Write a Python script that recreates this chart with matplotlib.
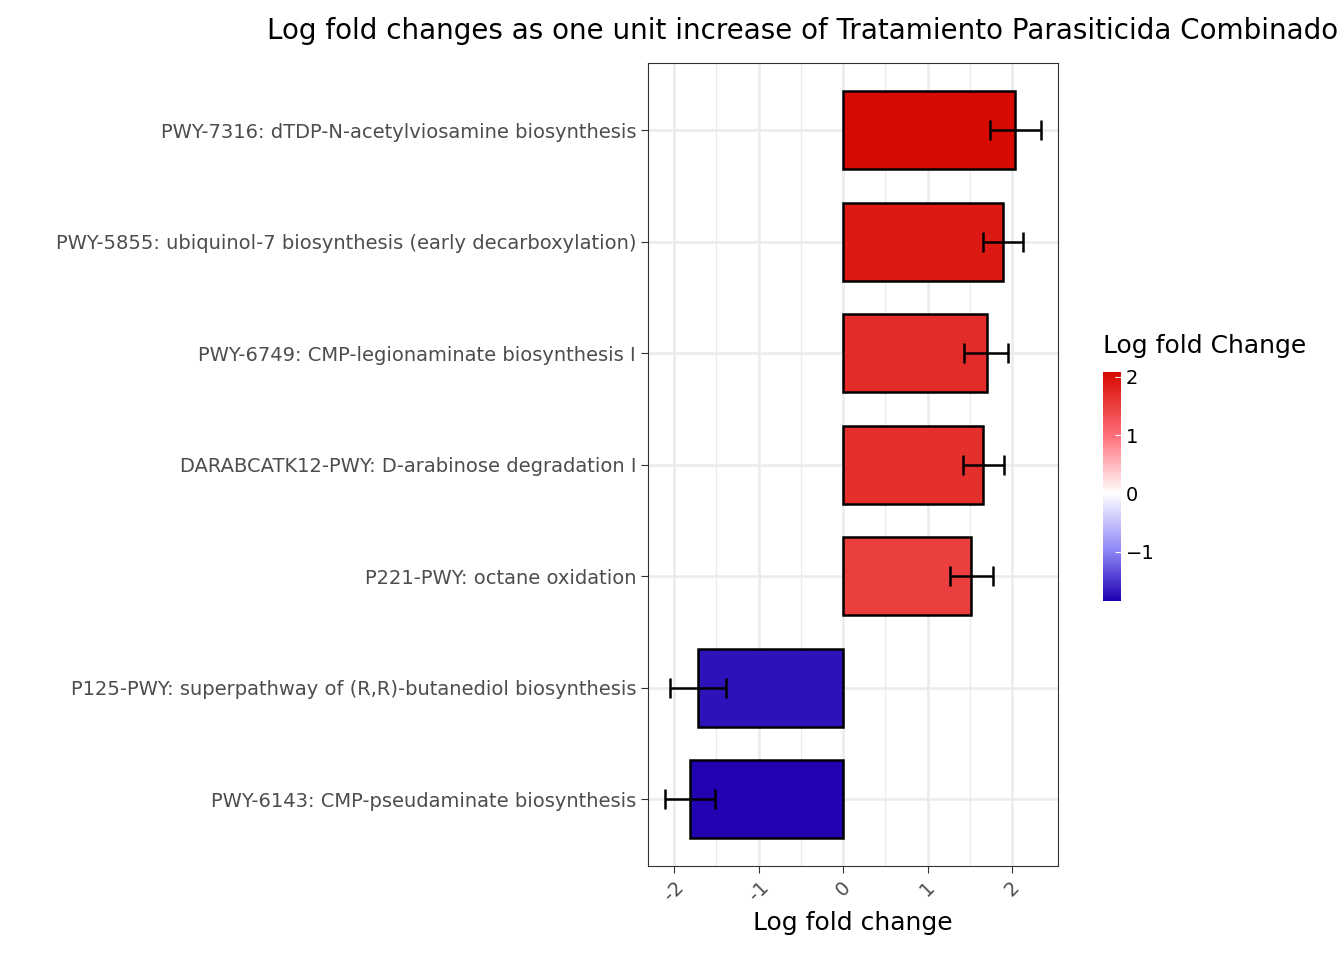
import matplotlib.pyplot as plt
import numpy as np
from matplotlib.colors import LinearSegmentedColormap, Normalize
from matplotlib.cm import ScalarMappable

pathways = [
    "PWY-7316: dTDP-N-acetylviosamine biosynthesis",
    "PWY-5855: ubiquinol-7 biosynthesis (early decarboxylation)",
    "PWY-6749: CMP-legionaminate biosynthesis I",
    "DARABCATK12-PWY: D-arabinose degradation I",
    "P221-PWY: octane oxidation",
    "P125-PWY: superpathway of (R,R)-butanediol biosynthesis",
    "PWY-6143: CMP-pseudaminate biosynthesis",
]
lfc = [2.04, 1.89, 1.70, 1.66, 1.51, -1.72, -1.81]
lower = [1.74, 1.66, 1.43, 1.42, 1.27, -2.05, -2.11]
upper = [2.34, 2.13, 1.95, 1.91, 1.78, -1.38, -1.51]

vmin, vmax = -1.84, 2.07
nodes = [-1.84, -1.0, 0.0, 1.0, 2.07]
node_colors = ["#2000B0", "#8A84F6", "#FFFFFF", "#FF6E78", "#D50A00"]
cmap = LinearSegmentedColormap.from_list(
    "lfc", [((v - vmin) / (vmax - vmin), c) for v, c in zip(nodes, node_colors)])
norm = Normalize(vmin, vmax)

fig = plt.figure(figsize=(13.44, 9.6), dpi=100)
ax = fig.add_axes([0.482, 0.098, 0.305, 0.836])
y = np.arange(len(pathways))[::-1]
ax.barh(y, lfc, height=0.7, color=cmap(norm(np.array(lfc))), edgecolor="black",
        linewidth=1.8, zorder=3)
lo = np.array(lfc) - np.array(lower)
hi = np.array(upper) - np.array(lfc)
ax.errorbar(lfc, y, xerr=[lo, hi], fmt="none", ecolor="black", elinewidth=1.8,
            capsize=7, capthick=1.8, zorder=4)

ax.set_xlim(-2.31, 2.54)
ax.set_ylim(-0.6, len(pathways) - 0.4)
ax.set_yticks(y)
ax.set_yticklabels(pathways, fontsize=14, color="#4d4d4d")
ax.set_xticks([-2, -1, 0, 1, 2])
ax.set_xticklabels(["-2", "-1", "0", "1", "2"], rotation=45, fontsize=14, color="#4d4d4d")
ax.set_xticks([-1.5, -0.5, 0.5, 1.5], minor=True)
ax.grid(which="major", color="#ebebeb", linewidth=1.8, zorder=0)
ax.grid(which="minor", axis="x", color="#ebebeb", linewidth=0.9, zorder=0)
ax.tick_params(which="minor", length=0)
ax.tick_params(which="major", length=5, color="#333333")
for s in ax.spines.values():
    s.set_color("#333333")
ax.set_xlabel("Log fold change", fontsize=18)
fig.text(0.199, 0.968, "Log fold changes as one unit increase of Tratamiento Parasiticida Combinado",
         fontsize=20, va="center")

cax = fig.add_axes([0.821, 0.374, 0.013, 0.238])
cb = fig.colorbar(ScalarMappable(norm=norm, cmap=cmap), cax=cax, ticks=[-1, 0, 1, 2])
cb.outline.set_visible(False)
cb.ax.tick_params(labelsize=14, length=4, color="white", direction="in")
cax.set_title("Log fold Change", fontsize=18, loc="left", pad=14)

fig.savefig("out.png", dpi=100)
